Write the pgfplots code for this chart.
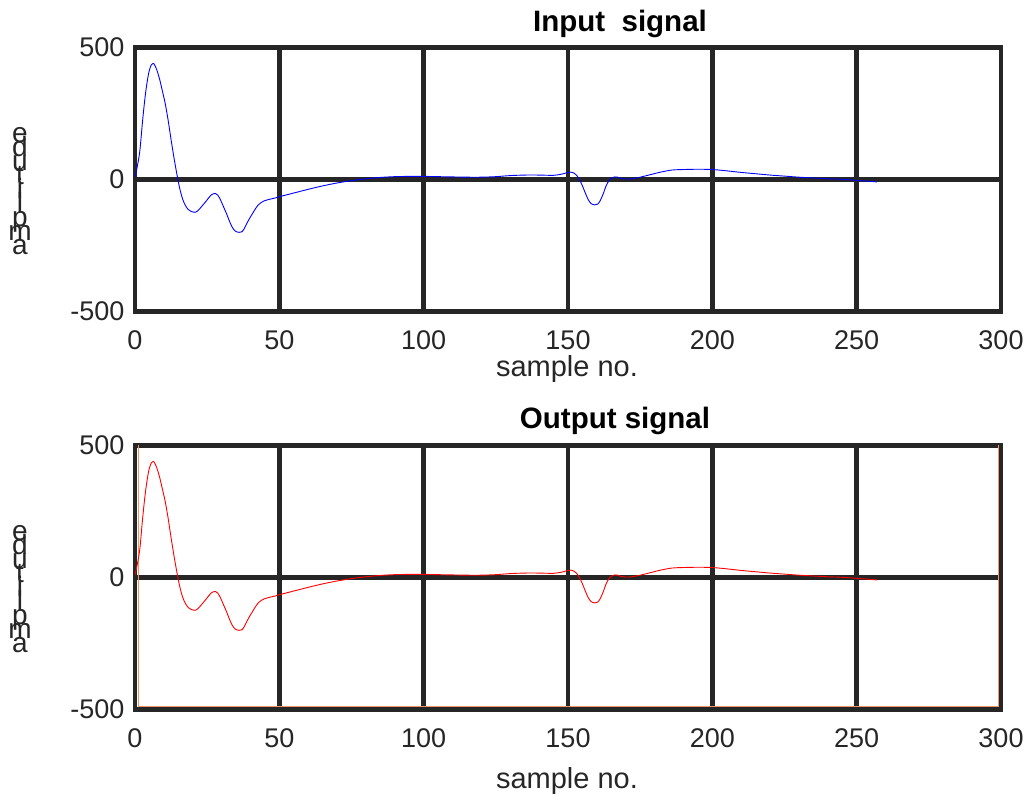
\documentclass[border=0pt]{standalone}
\usepackage{fontspec}
\setmainfont{Liberation Sans}
\usepackage{pgfplots}
\usepackage{pgfplotstable}
\pgfplotsset{compat=1.18}
\definecolor{gridc}{RGB}{38,38,38}
\definecolor{peach}{RGB}{240,150,100}

\pgfplotstableread{
x y
0 8
0.9 55
1.7 110
2.7 230
3.7 330
4.7 400
5.6 432
6.5 438
7.5 416
8.5 380
9.5 334
10.5 285
11.5 222
12.5 150
13.5 82
14.5 20
15.5 -35
16.5 -75
17.5 -100
18.5 -115
19.5 -122
20.9 -125
21.7 -120
22.7 -108
23.7 -95
24.7 -82
25.7 -68
26.7 -57
27.9 -54
28.7 -60
29.7 -80
30.7 -105
31.7 -130
32.7 -158
33.7 -182
34.7 -196
36.0 -201
37.0 -199
37.8 -188
38.7 -168
39.7 -148
40.7 -130
41.7 -112
42.7 -97
43.7 -88
44.7 -82
46.5 -76
48.5 -71
50 -66
55 -52
60 -38
65 -25
70 -14
75 -5
80 2
85 7
90 10
95 11
100 11
105 10
110 9
115 8
120 8
125 10
130 14
135 16
140 16
145 15
148 20
150 26
151 27
152 24
153 15
154 -2
155 -25
156 -52
157 -77
158 -92
159.2 -97
160.3 -94
161.2 -80
162.2 -55
163.2 -25
164.2 -5
165.2 5
166.2 9
167.2 8
168.2 4
170 1
172 2
175 8
178 16
182 27
186 35
190 37
195 38
200 37
205 32
210 26
215 21
220 16
225 12
230 8
235 5
240 2
245 0
250 -4
255 -8
257 -10
}\sig

\pgfplotsset{
  sigax/.style={
    anchor=south west,
    width=866pt, height=264pt, scale only axis,
    xmin=0, xmax=300, ymin=-500, ymax=500,
    xtick={0,50,...,300}, xticklabels={0,50,100,150,200,250,300},
    ytick={-500,0,500}, yticklabels={-500,0,500},
    grid=major,
    major grid style={line width=4.5pt, draw=gridc},
    axis line style={line width=4.5pt, draw=gridc},
    tick style={draw=none},
    /pgf/number format/assume math mode=true,
    ticklabel style={font=\fontsize{27}{31}\selectfont, text=gridc},
    xticklabel style={yshift=-16pt},
    yticklabel style={xshift=-7pt},
  }
}

\begin{document}
\begin{tikzpicture}[x=1pt,y=1pt]
\useasboundingbox (0,0) rectangle (1028,798);

\begin{axis}[sigax, at={(135pt,486.7pt)}]
\addplot[blue, line width=0.9pt, smooth] table {\sig};
\end{axis}

\begin{axis}[sigax, at={(135pt,88.7pt)}]
\draw[peach, line width=1pt] ([xshift=3pt,yshift=3pt]rel axis cs:0,0) rectangle ([xshift=-3pt,yshift=3pt]rel axis cs:1,1);
\addplot[red, line width=0.9pt, smooth] table {\sig};
\end{axis}

% titles
\node[font=\fontsize{29.5}{33}\selectfont\bfseries] at (620,774) {Input\ \ signal};
\node[font=\fontsize{29.5}{33}\selectfont\bfseries] at (615,377) {Output signal};

% x labels
\node[font=\fontsize{29}{33}\selectfont, text=gridc] at (567,429) {sample no.};
\node[font=\fontsize{29}{33}\selectfont, text=gridc] at (567,17) {sample no.};

% stacked y labels
\foreach \l [count=\k from 0] in {a,m,p,l,i,t,u,d,e} {
  \node[anchor=base, inner sep=0pt, font=\fontsize{28}{32}\selectfont, text=gridc] at (20,{543+14.06*\k}) {\l};
  \node[anchor=base, inner sep=0pt, font=\fontsize{28}{32}\selectfont, text=gridc] at (20,{145+14.06*\k}) {\l};
}
\end{tikzpicture}
\end{document}
